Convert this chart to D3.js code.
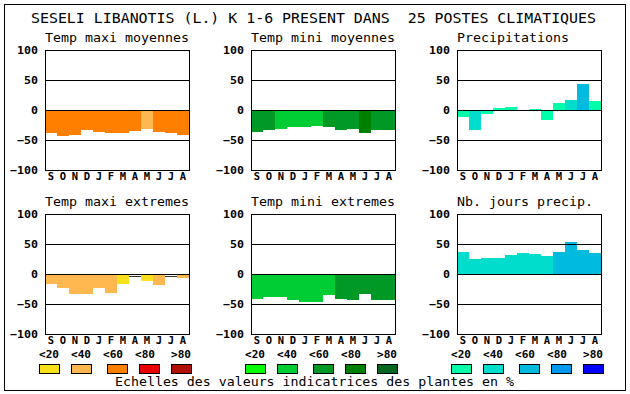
<!DOCTYPE html>
<html><head><meta charset="utf-8">
<script src="https://cdn.jsdelivr.net/npm/d3@7"></script>
<style>body{margin:0;background:#fff}svg{display:block}text{white-space:pre}</style>
</head><body>
<script>
// ---- data ----
const months = ["S","O","N","D","J","F","M","A","M","J","J","A"];
const tickValues = [100, 50, 0, -50, -100];
const gridValues = [50, 0, -50];
const legendLabels = ["<20", "<40", "<60", "<80", ">80"];
const title = "SESELI LIBANOTIS (L.) K 1-6 PRESENT DANS  25 POSTES CLIMATIQUES";
const footer = "Echelles des valeurs indicatrices des plantes en %";

const panelTitles = ["Temp maxi moyennes", "Temp mini moyennes", "Precipitations",
                     "Temp maxi extremes", "Temp mini extremes", "Nb. jours precip."];

// values (%) and class (0 = none, 1..5 = <20 .. >80)
const maxiMoyValues = [-38, -44, -42, -33, -37, -38, -38, -35, -32, -37, -38, -42];
const maxiMoyClass  = [3, 3, 3, 3, 3, 3, 3, 3, 2, 3, 3, 3];
const miniMoyValues = [-36, -34, -31, -28, -28, -27, -28, -33, -31, -38, -34, -33];
const miniMoyClass  = [3, 3, 2, 2, 2, 2, 3, 3, 3, 4, 3, 3];
const precipValues  = [-11, -34, -6, 3, 5, 0, 2, -17, 12, 17, 43, 15];
const precipClass   = [1, 2, 1, 1, 1, 1, 1, 1, 1, 2, 3, 1];
const maxiExtValues = [-16, -23, -34, -33, -24, -31, -16, -3, -11, -18, -3, -6];
const maxiExtClass  = [2, 2, 2, 2, 2, 2, 1, 0, 1, 2, 0, 2];
const miniExtValues = [-41, -38, -38, -43, -46, -46, -35, -41, -43, -33, -43, -44];
const miniExtClass  = [2, 2, 2, 2, 2, 2, 2, 3, 3, 3, 3, 3];
const joursValues   = [37, 25, 27, 27, 32, 35, 33, 30, 37, 53, 40, 35];
const joursClass    = [2, 2, 2, 2, 2, 2, 2, 2, 3, 3, 3, 3];

const warmColors  = ["#ffffff", "#f8e01a", "#ffb850", "#ff8000", "#e80000", "#b01000"];
const greenColors = ["#ffffff", "#00ff00", "#00cc33", "#009926", "#008000", "#006620"];
const blueColors  = ["#ffffff", "#00ffaa", "#00ddcc", "#00bbdd", "#0099ee", "#0000ff"];

// ---- layout ----
const W = 630, H = 394;
const colX = [45, 251, 457], rowY = [50, 214];
const pw = 144, ph = 120;
const mono = "'DejaVu Sans Mono', 'Liberation Mono', monospace";

const svg = d3.select("body").append("svg").attr("width", W).attr("height", H)
  .attr("shape-rendering", "crispEdges");

svg.append("rect").attr("x", 4.5).attr("y", 4.5).attr("width", 621).attr("height", 385.5)
  .attr("fill", "none").attr("stroke", "#000");

svg.append("text").attr("x", 31).attr("y", 23).attr("xml:space", "preserve").text(title)
  .attr("font-family", mono).attr("font-size", 14.5)
  .attr("textLength", 565).attr("lengthAdjust", "spacingAndGlyphs");

const panels = [
  {v: maxiMoyValues, c: maxiMoyClass, pal: warmColors},
  {v: miniMoyValues, c: miniMoyClass, pal: greenColors},
  {v: precipValues,  c: precipClass,  pal: blueColors},
  {v: maxiExtValues, c: maxiExtClass, pal: warmColors},
  {v: miniExtValues, c: miniExtClass, pal: greenColors},
  {v: joursValues,   c: joursClass,   pal: blueColors}
];

const x = d3.scaleBand().domain(d3.range(12)).range([0, pw]).padding(0);
const y = d3.scaleLinear().domain([-100, 100]).range([ph, 0]);

panels.forEach((p, i) => {
  const col = i % 3, row = Math.floor(i / 3);
  const g = svg.append("g").attr("transform", `translate(${colX[col]},${rowY[row]})`);

  g.append("text").attr("x", 0).attr("y", -8).text(panelTitles[i])
    .attr("font-family", mono).attr("font-size", 13)
    .attr("textLength", panelTitles[i].length * 8).attr("lengthAdjust", "spacingAndGlyphs");

  const data = p.v.map((v, k) => ({k, v, c: p.c[k]}));
  g.selectAll("rect.bar").data(data).join("rect").attr("class", "bar")
    .attr("x", d => x(d.k)).attr("width", x.bandwidth())
    .attr("y", d => y(Math.max(0, d.v))).attr("height", d => Math.abs(y(d.v) - y(0)))
    .attr("fill", d => p.pal[d.c]);
  // bars without class: show only their end as a thin line
  g.selectAll("line.none").data(data.filter(d => d.c === 0)).join("line").attr("class", "none")
    .attr("x1", d => x(d.k)).attr("x2", d => x(d.k) + x.bandwidth())
    .attr("y1", d => Math.round(y(d.v)) + 0.5).attr("y2", d => Math.round(y(d.v)) + 0.5)
    .attr("stroke", "#333");

  g.selectAll("line.grid").data(gridValues).join("line").attr("class", "grid")
    .attr("x1", 0).attr("x2", pw)
    .attr("y1", d => y(d) + 0.5).attr("y2", d => y(d) + 0.5)
    .attr("stroke", "#000");
  g.append("rect").attr("x", 0.5).attr("y", 0.5).attr("width", pw).attr("height", ph)
    .attr("fill", "none").attr("stroke", "#000");

  const ya = g.append("g").call(d3.axisLeft(y).tickValues(tickValues).tickSize(0).tickPadding(7));
  ya.select(".domain").remove();
  ya.selectAll("text").attr("font-family", mono).attr("font-size", 10.5).attr("font-weight", "bold")
    .attr("fill", "#000").attr("dy", "0.36em")
    .attr("textLength", d => String(d).length * 7).attr("lengthAdjust", "spacingAndGlyphs");

  const xa = g.append("g").attr("transform", `translate(0,${ph})`)
    .call(d3.axisBottom(x).tickFormat(k => months[k]).tickSize(0).tickPadding(3));
  xa.select(".domain").remove();
  xa.selectAll("text").attr("font-family", mono).attr("font-size", 10.5).attr("font-weight", "bold")
    .attr("fill", "#000").attr("dy", "0.71em");
});

// legends
const labelOffsets = [0, 32, 64, 96, 132];
const boxOffsets = [0, 32, 68, 100, 132];
const legendPalettes = [warmColors, greenColors, blueColors];
legendPalettes.forEach((pal, j) => {
  const lx = 39 + j * 206;
  const g = svg.append("g");
  g.selectAll("text").data(legendLabels).join("text")
    .attr("x", (d, k) => lx + labelOffsets[k]).attr("y", 358).text(d => d)
    .attr("font-family", mono).attr("font-size", 10.5).attr("font-weight", "bold")
    .attr("textLength", 20).attr("lengthAdjust", "spacingAndGlyphs");
  g.selectAll("rect").data(pal.slice(1)).join("rect")
    .attr("x", (d, k) => lx + boxOffsets[k] + 0.5).attr("y", 364.5)
    .attr("width", 20).attr("height", 9)
    .attr("fill", d => d).attr("stroke", "#000");
});

svg.append("text").attr("x", 115).attr("y", 386).text(footer)
  .attr("font-family", mono).attr("font-size", 13)
  .attr("textLength", 399).attr("lengthAdjust", "spacingAndGlyphs");
</script>
</body></html>
